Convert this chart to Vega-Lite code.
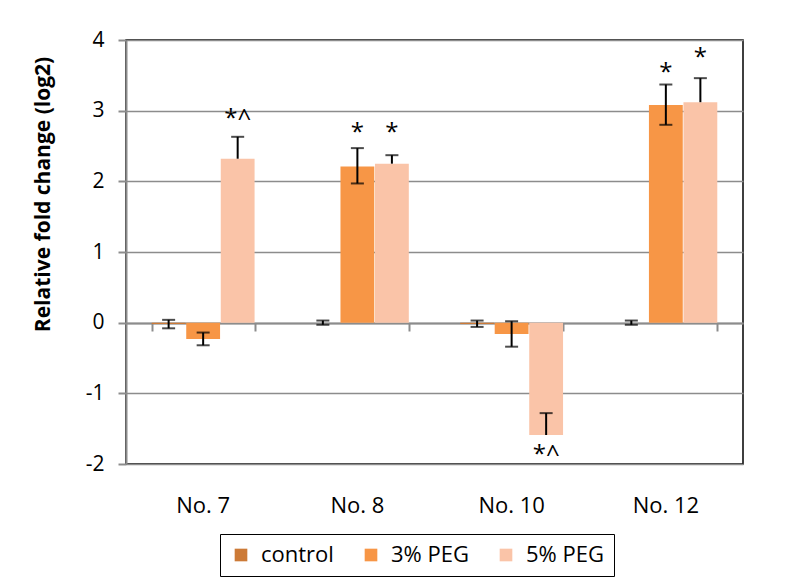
{
  "$schema": "https://vega.github.io/schema/vega-lite/v6.json",
  "width": 617,
  "height": 424,
  "autosize": {"type": "none"},
  "padding": {"left": 126, "top": 40, "right": 58, "bottom": 122},
  "background": "white",
  "config": {
    "view": {"stroke": "black", "strokeWidth": 1.5},
    "font": "Open Sans",
    "text": {"font": "Open Sans"}
  },
  "data": {
    "values": [
      {"cat": "No. 7", "series": "control", "value": -0.02, "lo": -0.08, "hi": 0.04, "loCap": -0.08, "label": null, "labelY": null},
      {"cat": "No. 7", "series": "3% PEG", "value": -0.23, "lo": -0.32, "hi": -0.14, "loCap": -0.32, "label": null, "labelY": null},
      {"cat": "No. 7", "series": "5% PEG", "value": 2.32, "lo": 2.32, "hi": 2.63, "loCap": null, "label": "*^", "labelY": 2.95},
      {"cat": "No. 8", "series": "control", "value": 0.0, "lo": -0.03, "hi": 0.03, "loCap": -0.03, "label": null, "labelY": null},
      {"cat": "No. 8", "series": "3% PEG", "value": 2.21, "lo": 1.97, "hi": 2.47, "loCap": 1.97, "label": "*", "labelY": 2.75},
      {"cat": "No. 8", "series": "5% PEG", "value": 2.25, "lo": 2.25, "hi": 2.37, "loCap": null, "label": "*", "labelY": 2.75},
      {"cat": "No. 10", "series": "control", "value": -0.02, "lo": -0.06, "hi": 0.03, "loCap": -0.06, "label": null, "labelY": null},
      {"cat": "No. 10", "series": "3% PEG", "value": -0.16, "lo": -0.34, "hi": 0.02, "loCap": -0.34, "label": null, "labelY": null},
      {"cat": "No. 10", "series": "5% PEG", "value": -1.59, "lo": -1.59, "hi": -1.28, "loCap": null, "label": "*^", "labelY": -1.8},
      {"cat": "No. 12", "series": "control", "value": 0.0, "lo": -0.03, "hi": 0.03, "loCap": -0.03, "label": null, "labelY": null},
      {"cat": "No. 12", "series": "3% PEG", "value": 3.08, "lo": 2.8, "hi": 3.37, "loCap": 2.8, "label": "*", "labelY": 3.6},
      {"cat": "No. 12", "series": "5% PEG", "value": 3.12, "lo": 3.12, "hi": 3.46, "loCap": null, "label": "*", "labelY": 3.82}
    ]
  },
  "resolve": {"axis": {"x": "independent"}},
  "layer": [
    {
      "mark": {"type": "bar"},
      "encoding": {
        "x": {
          "field": "cat", "type": "nominal",
          "sort": ["No. 7", "No. 8", "No. 10", "No. 12"],
          "scale": {"paddingInner": 0.333, "paddingOuter": 0.1667},
          "axis": {"orient": "bottom", "title": null, "domain": false, "ticks": false, "labelAngle": 0, "labelPadding": 31, "labelFontSize": 22, "labelColor": "black", "labelFont": "Open Sans"}
        },
        "xOffset": {
          "field": "series", "type": "nominal",
          "sort": ["control", "3% PEG", "5% PEG"],
          "scale": {"paddingInner": 0.02, "paddingOuter": 0}
        },
        "y": {
          "field": "value", "type": "quantitative",
          "scale": {"domain": [-2, 4], "nice": false, "zero": false},
          "axis": {
            "values": [-2, -1, 0, 1, 2, 3, 4],
            "labelExpr": "datum.value + ''",
            "title": "Relative fold change (log2)",
            "titleFontSize": 21, "titleFontWeight": "bold", "titleColor": "black", "titleFont": "Open Sans",
            "titlePadding": 32, "titleY": 154,
            "labelFontSize": 21, "labelColor": "black", "labelPadding": 14, "labelFont": "Open Sans",
            "domainColor": "#8c8c8c", "domainWidth": 2,
            "tickColor": "#8c8c8c", "tickWidth": 2, "tickSize": 8,
            "grid": true, "gridColor": "#8c8c8c", "gridWidth": 1.5
          }
        },
        "color": {
          "field": "series", "type": "nominal",
          "sort": ["control", "3% PEG", "5% PEG"],
          "scale": {"domain": ["control", "3% PEG", "5% PEG"], "range": ["#CC7A37", "#F79646", "#FAC4A8"]},
          "legend": {
            "orient": "none", "legendX": 94, "legendY": 494, "direction": "horizontal",
            "title": null, "symbolType": "square", "symbolSize": 160, "symbolStrokeWidth": 0,
            "labelFontSize": 22, "labelColor": "black", "labelFont": "Open Sans", "labelOffset": 9,
            "columnPadding": 26, "padding": 10, "strokeColor": "black"
          }
        }
      }
    },
    {
      "mark": {"type": "rule", "color": "black", "strokeWidth": 2},
      "encoding": {
        "x": {
          "field": "cat", "type": "nominal",
          "sort": ["No. 7", "No. 8", "No. 10", "No. 12"],
          "axis": {"orient": "bottom", "offset": -141, "title": null, "labels": false, "domain": true, "domainColor": "#8c8c8c", "domainWidth": 2, "ticks": true, "tickBand": "extent", "tickSize": 8, "tickColor": "#8c8c8c", "tickWidth": 2}
        },
        "xOffset": {"field": "series", "type": "nominal", "sort": ["control", "3% PEG", "5% PEG"]},
        "y": {"field": "lo", "type": "quantitative"},
        "y2": {"field": "hi"}
      }
    },
    {
      "mark": {"type": "tick", "color": "black", "thickness": 2, "size": 13, "orient": "horizontal"},
      "encoding": {
        "x": {"field": "cat", "type": "nominal", "sort": ["No. 7", "No. 8", "No. 10", "No. 12"], "axis": null},
        "xOffset": {"field": "series", "type": "nominal", "sort": ["control", "3% PEG", "5% PEG"]},
        "y": {"field": "hi", "type": "quantitative"}
      }
    },
    {
      "mark": {"type": "tick", "color": "black", "thickness": 2, "size": 13, "orient": "horizontal"},
      "encoding": {
        "x": {"field": "cat", "type": "nominal", "sort": ["No. 7", "No. 8", "No. 10", "No. 12"], "axis": null},
        "xOffset": {"field": "series", "type": "nominal", "sort": ["control", "3% PEG", "5% PEG"]},
        "y": {"field": "loCap", "type": "quantitative"}
      }
    },
    {
      "mark": {"type": "text", "fontSize": 24, "baseline": "middle", "align": "center", "color": "black", "dy": 5},
      "encoding": {
        "x": {"field": "cat", "type": "nominal", "sort": ["No. 7", "No. 8", "No. 10", "No. 12"], "axis": null},
        "xOffset": {"field": "series", "type": "nominal", "sort": ["control", "3% PEG", "5% PEG"]},
        "y": {"field": "labelY", "type": "quantitative"},
        "text": {"field": "label"}
      }
    }
  ]
}
